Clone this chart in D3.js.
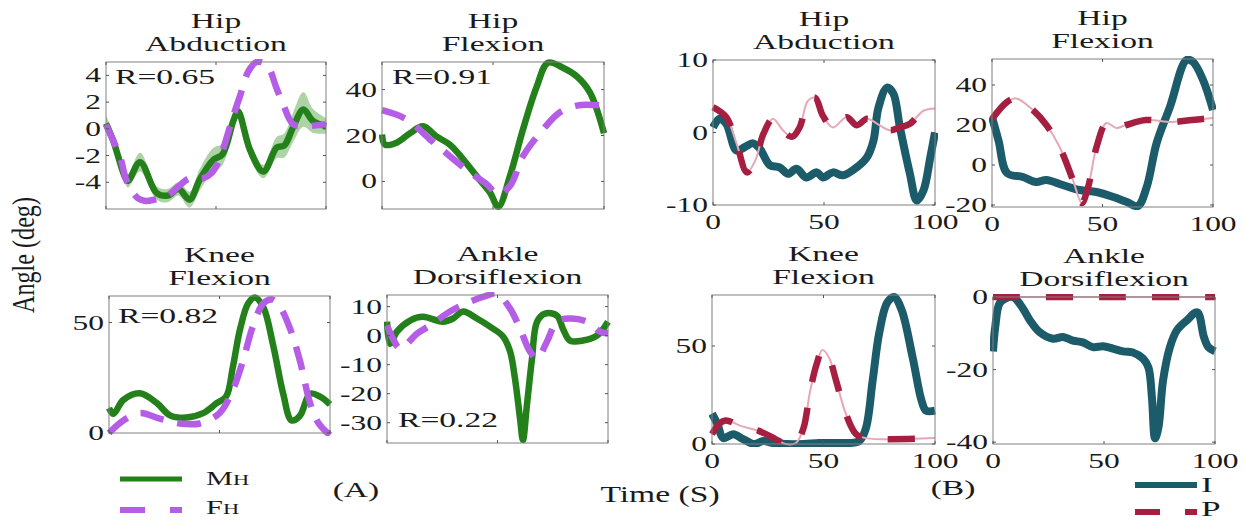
<!DOCTYPE html>
<html>
<head>
<meta charset="utf-8">
<script src="https://cdn.jsdelivr.net/npm/d3@7"></script>
<style>
  body { margin: 0; background: #fff; }
  svg text { font-family: "Liberation Serif", "Times New Roman", serif; fill: #1a1a1a; }
</style>
</head>
<body>
<div id="chart"></div>
<script>
// ---- data (time in % of cycle, angle in deg) ----
// (A) mean human (MH) and fitted human (FH)
var mhHipAbduction = [[0,0.4],[3.3,-0.9],[8.6,-3.6],[10,-3.9],[15.5,-2.5],[23,-4.8],[28,-5.0],[33,-4.5],[38,-5.3],[42.6,-3.8],[48.6,-2.35],[53,-1.9],[57.9,0.6],[60,1.3],[65.5,-1.6],[71.5,-3.2],[77.6,-1.4],[81,-1.25],[85,0.1],[89.7,1.45],[94,0.6],[100,0.2]];
var mhHipAbductionSD = [0.6,0.6,0.5,0.5,0.7,0.5,0.5,0.5,0.6,0.8,0.9,0.8,0.6,0.5,0.6,0.5,0.8,0.9,1.1,1.3,0.9,0.6];
var fhHipAbduction = [[0,0.3],[6.4,-2.1],[9.4,-3.9],[14.5,-5.2],[18,-5.4],[22,-5.3],[28,-5.0],[33,-4.3],[38,-3.7],[44,-3.7],[48,-3.3],[51.5,-2.3],[57.9,1.0],[61,2.5],[64.7,4.3],[68.5,5.0],[73,4.8],[77.6,3.0],[80.6,1.8],[85,0.35],[91,0.2],[100,0.35]];

var mhHipFlexion = [[0,20.4],[1.4,16],[6.8,17],[12.6,21],[18.5,24],[24.5,19.6],[30.6,16],[36.6,9.6],[42.6,2.3],[48.6,-4.8],[52.4,-11],[57.6,2.3],[63.5,22.6],[69.6,41],[74.8,51.7],[81.5,49.5],[87.8,45.7],[93.7,38.7],[100,21]];
var fhHipFlexion = [[0,31],[11.2,27],[21.6,18.3],[30.6,11],[39.6,3.9],[47.3,-1.3],[52,-5.5],[57.6,-2],[63.5,11],[72.5,22.6],[80,30],[87.8,33],[92.3,33.4],[100,33]];

var mhKneeFlexion = [[0,11.3],[2,8.7],[6.5,15],[14,18],[21.7,13.5],[27.6,8],[35,7],[42.6,9],[48.7,13.5],[53,16.5],[56,29.6],[59.3,47],[63,58.7],[66,61.3],[69.8,57],[74.3,39.6],[78.8,17.8],[82.6,5.7],[86.4,7.8],[91,17.8],[95.5,16.5],[100,13]];
var mhKneeFlexionSD = [1.5,1.5,1.4,1.2,1,1,1,1,1,1,1,1,1,1,1,1,1,1,1,1,1,1];
var fhKneeFlexion = [[0,0],[6.5,5.7],[14,9],[23,6.5],[32,4.3],[41,4.3],[50,9],[56,19.5],[60.6,32.6],[65,48],[69.8,58.6],[73.7,60.4],[77.4,57],[82,47],[86.4,32.6],[91,13.5],[94.6,4.8],[100,-1]];

var mhAnkleDorsiflexion = [[0,4.8],[1.4,-2.8],[4.5,1.4],[10.4,5.2],[16.3,6.5],[22.6,5.2],[25.3,4.8],[29.9,5.9],[34.4,8.3],[40.7,5.9],[46.6,3.1],[52.5,-0.3],[55.7,-5.5],[57.9,-14.8],[60.2,-28.6],[61.5,-36],[63.3,-24],[65.6,-8],[67.9,4.8],[71.5,7.6],[76.9,6.9],[79.6,2.4],[82.8,-1.7],[88.7,-1.7],[95,0],[100,4.8]];
var fhAnkleDorsiflexion = [[0,3.5],[2.7,-1],[5.9,-4.5],[13.6,0.7],[19.5,3.5],[28.5,8.3],[37.5,11.7],[45.2,13.8],[49.8,14.5],[55.7,9.3],[60.2,2.4],[64.7,-5.5],[67.9,-7.9],[72.4,-2],[76.9,4.8],[82.8,5.9],[90.5,4.8],[96.4,1.4],[100,0.7]];

// (B) I and P
var iHipAbduction = [[0,0.7],[3,1.9],[6,1.2],[10.6,-2.5],[14.4,-2],[18,-1.5],[21,-2.2],[25.6,-4.5],[30,-4.8],[33.8,-5.7],[37.6,-5],[42,-6.2],[46.8,-5.5],[49.5,-6.2],[54,-5.5],[58.6,-5.9],[64.8,-4.8],[69.4,-3.4],[72.3,-1.1],[74.5,3.4],[78.4,6.2],[81.2,5.4],[84.2,0.7],[88.7,-5.7],[91.8,-9.4],[94.8,-8],[97.9,-3.4],[100,0]];
var pHipAbduction = [[0,3.5],[6,2.1],[10.6,-1.5],[15.3,-5.5],[19,-3.9],[22.7,-0.2],[27,1.9],[31.5,0.3],[35.5,-0.6],[39,0.7],[42.8,4.4],[46,4.8],[49.5,2.3],[54,0.7],[60.2,2.1],[64.8,1],[69.4,1.9],[74,1.2],[79.7,0.3],[84.2,0.7],[88.7,1.2],[94.8,3],[100,3.3]];

var iHipFlexion = [[0,24],[3,12],[6.8,-4],[14,-6],[20,-8.5],[24.6,-7.5],[32,-10],[39.6,-12.5],[47.3,-13.5],[55,-16],[61,-18.5],[66,-20.5],[70,-11],[74.5,11],[80.5,29],[88,52.5],[91,51.5],[95.5,42.5],[100,27.5]];
var pHipFlexion = [[0,23],[6.8,31.5],[11,33.3],[18.5,27.5],[24.6,20],[30.6,9],[36.6,-7.5],[40.6,-19],[43.5,-11],[47.3,9],[51.8,21],[56.2,18.5],[60.7,20],[69.6,22.5],[81.4,21.5],[90.5,22.5],[100,23.5]];

var iKneeFlexion = [[0,15.5],[2.5,10],[5,3],[9.5,5],[14,2.5],[19,0],[23,1.5],[27.5,0.5],[33,0],[41,0],[48,0.5],[57,0.5],[66,1.5],[69,8],[72,32],[75,56.7],[78.5,72],[81.6,75],[85,68.5],[90,44],[94,22],[96,17],[100,17]];
var pKneeFlexion = [[0,5],[3,10],[6,12],[13.5,9],[21,6.7],[28.5,2.5],[33,0],[37.6,0.5],[41,8],[44,27],[47,41],[49.5,48],[52.5,44],[55.6,32.5],[60,15.5],[64.6,5],[69,3],[100,3]];

var iAnkleDorsiflexion = [[0,-15],[1,-8.3],[3,-1.7],[6,-0.3],[9,0],[13,-2.7],[16.6,-6.4],[21,-9.7],[27,-11.5],[31.5,-11],[36,-12],[40.5,-12.5],[45,-13.8],[49.5,-13.6],[54,-14.2],[58.6,-15],[63,-15.3],[67.6,-17],[70,-19.4],[71.6,-27.8],[73,-38.9],[74.5,-36],[76.6,-23],[79.7,-13.8],[82.8,-9.2],[87.4,-6.4],[92,-4.2],[95,-11],[97,-13.8],[100,-15]];
var pAnkleDorsiflexion = [[0,0],[50,0],[100,0]];

// axis ranges and ticks
var xTicks = [0, 50, 100];
var ticksHipAbdA = [-4, -2, 0, 2, 4];
var ticksHipFlexA = [0, 20, 40];
var ticksKneeA = [0, 50];
var ticksAnkleA = [-30, -20, -10, 0, 10];
var ticksHipAbdB = [-10, 0, 10];
var ticksHipFlexB = [-20, 0, 20, 40];
var ticksKneeB = [0, 50];
var ticksAnkleB = [-40, -20, 0];

var correlations = ["R=0.65", "R=0.91", "R=0.82", "R=0.22"];

// ---- layout ----
var width = 1247, height = 522;
var sx = 1.6;     // glyphs in the figure are stretched horizontally
var tickSx = 1.5; // tick labels a little narrower so neighbours do not collide

var colors = {
    mh: "#23801a", mhBand: "rgba(60,150,45,0.42)", fh: "#b55de6",
    i: "#1c5c6a", p: "#a61f40", pThin: "#e6a8b7"
};

var panels = [
    {title: ["Hip", "Abduction"], box: [106, 62, 326, 209], y: [-6, 5], ticks: ticksHipAbdA, r: correlations[0], rPos: [9, 22], group: "A",
        solid: mhHipAbduction, sd: mhHipAbductionSD, dashed: fhHipAbduction},
    {title: ["Hip", "Flexion"], box: [382, 62, 604, 209], y: [-12, 52], ticks: ticksHipFlexA, r: correlations[1], rPos: [10, 22], group: "A",
        solid: mhHipFlexion, dashed: fhHipFlexion},
    {title: ["Knee", "Flexion"], box: [109, 296, 330, 433], y: [0, 62], ticks: ticksKneeA, r: correlations[2], rPos: [9, 27], group: "A",
        solid: mhKneeFlexion, sd: mhKneeFlexionSD, dashed: fhKneeFlexion},
    {title: ["Ankle", "Dorsiflexion"], box: [387, 295, 608, 443], y: [-37, 14], ticks: ticksAnkleA, r: correlations[3], rPos: [11, 132], group: "A",
        solid: mhAnkleDorsiflexion, dashed: fhAnkleDorsiflexion},
    {title: ["Hip", "Abduction"], box: [713, 60, 935, 205], y: [-10, 10], ticks: ticksHipAbdB, group: "B",
        solid: iHipAbduction, dashed: pHipAbduction},
    {title: ["Hip", "Flexion"], box: [992, 59, 1213, 207], y: [-21, 53], ticks: ticksHipFlexB, group: "B",
        solid: iHipFlexion, dashed: pHipFlexion},
    {title: ["Knee", "Flexion"], box: [712, 295, 935, 444], y: [0, 76], ticks: ticksKneeB, group: "B",
        solid: iKneeFlexion, dashed: pKneeFlexion},
    {title: ["Ankle", "Dorsiflexion"], box: [993, 297, 1215, 444], y: [-40.5, 0], ticks: ticksAnkleB, group: "B",
        solid: iAnkleDorsiflexion, dashed: pAnkleDorsiflexion}
];

var svg = d3.select("#chart").append("svg")
    .attr("width", width)
    .attr("height", height)
    .style("background", "#fff");

function sText(sel, x, y, str, size, anchor, scaleX) {
    return sel.append("text")
        .attr("transform", "translate(" + x + "," + y + ") scale(" + (scaleX || sx) + ",1)")
        .attr("text-anchor", anchor || "start")
        .attr("font-size", size)
        .text(str);
}

panels.forEach(function(p, k) {
    var x0 = p.box[0], y0 = p.box[1], x1 = p.box[2], y1 = p.box[3];
    var xScale = d3.scaleLinear().domain([0, 100]).range([x0, x1]);
    var yScale = d3.scaleLinear().domain(p.y).range([y1, y0]);
    var g = svg.append("g");

    // clip (a little padding so thick strokes on the edge stay visible)
    var clipId = "clip" + k;
    svg.append("clipPath").attr("id", clipId)
        .append("rect")
        .attr("x", x0 - 3).attr("y", y0 - 3)
        .attr("width", x1 - x0 + 6).attr("height", y1 - y0 + 6);

    var plot = g.append("g").attr("clip-path", "url(#" + clipId + ")");
    var curve = d3.curveCatmullRom.alpha(0.5);
    var line = d3.line()
        .x(function(d) { return xScale(d[0]); })
        .y(function(d) { return yScale(d[1]); })
        .curve(curve);

    if (p.group === "A") {
        if (p.sd) {
            var area = d3.area()
                .x(function(d) { return xScale(d[0]); })
                .y0(function(d, i) { return yScale(d[1] - p.sd[i]); })
                .y1(function(d, i) { return yScale(d[1] + p.sd[i]); })
                .curve(curve);
            plot.append("path").attr("d", area(p.solid)).attr("fill", colors.mhBand);
        }
        plot.append("path").attr("d", line(p.solid))
            .attr("fill", "none").attr("stroke", colors.mh).attr("stroke-width", 6.5)
            .attr("stroke-linejoin", "round");
        plot.append("path").attr("d", line(p.dashed))
            .attr("fill", "none").attr("stroke", colors.fh).attr("stroke-width", 6.5)
            .attr("stroke-dasharray", "24,14");
    } else {
        plot.append("path").attr("d", line(p.solid))
            .attr("fill", "none").attr("stroke", colors.i).attr("stroke-width", 8)
            .attr("stroke-linejoin", "round");
        plot.append("path").attr("d", line(p.dashed))
            .attr("fill", "none").attr("stroke", colors.pThin).attr("stroke-width", 2);
        plot.append("path").attr("d", line(p.dashed))
            .attr("fill", "none").attr("stroke", colors.p).attr("stroke-width", 6.5)
            .attr("stroke-dasharray", "27,26");
    }

    // box
    g.append("rect")
        .attr("x", x0).attr("y", y0)
        .attr("width", x1 - x0).attr("height", y1 - y0)
        .attr("fill", "none").attr("stroke", "#808080").attr("stroke-width", 1);

    // inward ticks on all four sides
    p.ticks.forEach(function(t) {
        var yy = yScale(t);
        g.append("line").attr("x1", x0).attr("x2", x0 + 3).attr("y1", yy).attr("y2", yy).attr("stroke", "#555");
        g.append("line").attr("x1", x1 - 3).attr("x2", x1).attr("y1", yy).attr("y2", yy).attr("stroke", "#555");
        sText(g, x0 - 5, yy + 7, t, 21, "end", tickSx);
    });
    xTicks.forEach(function(t) {
        var xx = xScale(t);
        g.append("line").attr("x1", xx).attr("x2", xx).attr("y1", y1).attr("y2", y1 - 3).attr("stroke", "#555");
        g.append("line").attr("x1", xx).attr("x2", xx).attr("y1", y0).attr("y2", y0 + 3).attr("stroke", "#555");
        if (p.group === "B") sText(g, xx, y1 + 24, t, 21, "middle", tickSx);
    });

    // title, two lines
    var cx = (x0 + x1) / 2;
    sText(g, cx, y0 - 34, p.title[0], 21, "middle");
    sText(g, cx, y0 - 11, p.title[1], 21, "middle");

    if (p.r) sText(g, x0 + p.rPos[0], y0 + p.rPos[1], p.r, 21, "start");
});

// shared axis labels
svg.append("text")
    .attr("transform", "translate(34,255) rotate(-90) scale(1.15,1.55)")
    .attr("text-anchor", "middle")
    .attr("font-size", 21)
    .text("Angle (deg)");
sText(svg, 660, 502, "Time (S)", 24, "middle", 1.4);
sText(svg, 356, 497, "(A)", 21, "middle");
sText(svg, 953, 495, "(B)", 21, "middle");

// legend A
svg.append("line").attr("x1", 120).attr("x2", 182).attr("y1", 479).attr("y2", 479)
    .attr("stroke", colors.mh).attr("stroke-width", 5);
svg.append("line").attr("x1", 120).attr("x2", 182).attr("y1", 510).attr("y2", 510)
    .attr("stroke", colors.fh).attr("stroke-width", 6).attr("stroke-dasharray", "25,25");
var mh = sText(svg, 206, 485, "M", 19, "start");
mh.append("tspan").attr("font-size", 14).text("H");
var fh = sText(svg, 206, 514, "F", 19, "start");
fh.append("tspan").attr("font-size", 14).text("H");

// legend B
svg.append("line").attr("x1", 1135).attr("x2", 1197).attr("y1", 485).attr("y2", 485)
    .attr("stroke", colors.i).attr("stroke-width", 6);
svg.append("line").attr("x1", 1135).attr("x2", 1197).attr("y1", 512).attr("y2", 512)
    .attr("stroke", colors.p).attr("stroke-width", 6).attr("stroke-dasharray", "25,25");
sText(svg, 1201, 492, "I", 22, "start");
sText(svg, 1201, 516, "P", 22, "start");
</script>
</body>
</html>
